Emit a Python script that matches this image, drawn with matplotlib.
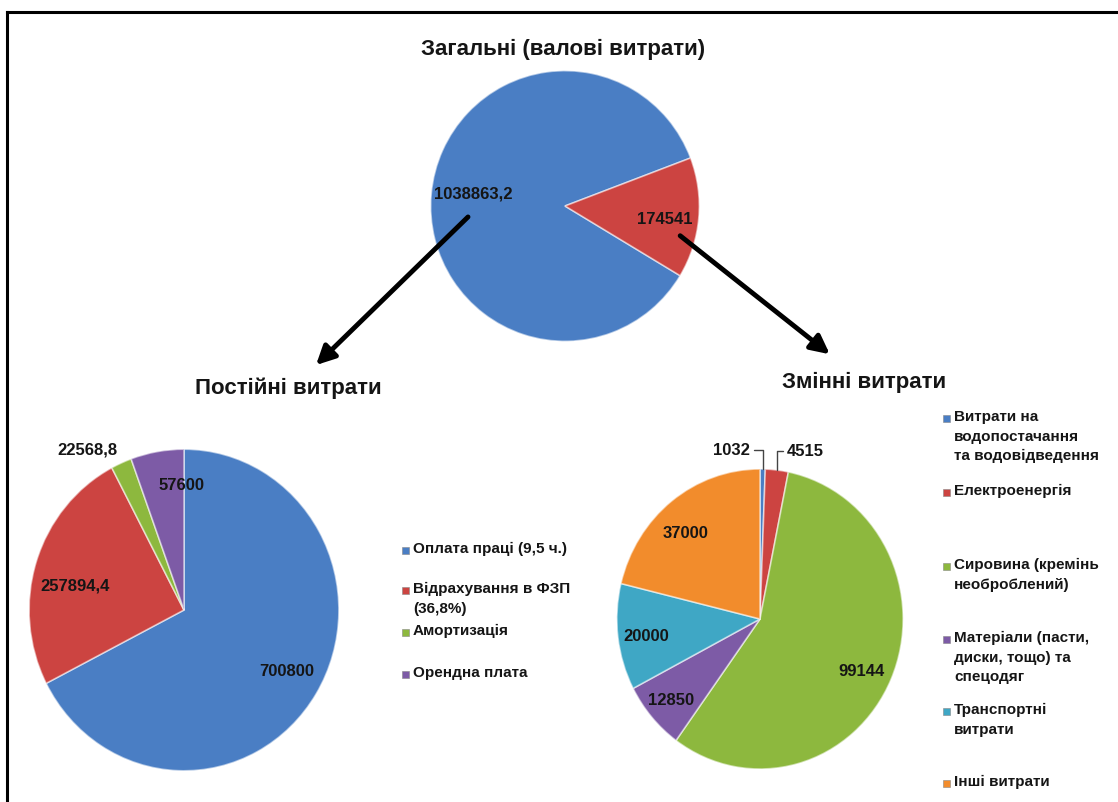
import matplotlib
matplotlib.use("Agg")
import matplotlib.pyplot as plt
import numpy as np
from matplotlib.lines import Line2D
from matplotlib.patches import Rectangle, FancyArrowPatch

plt.rcParams['font.family'] = ['Liberation Sans', 'DejaVu Sans']

# ---- data ----
total_labels = ["Постійні", "Змінні"]
total_values = [1038863.2, 174541]
total_text = ["1038863,2", "174541"]

fixed_labels = ["Оплата праці (9,5 ч.)", "Відрахування в ФЗП\n(36,8%)",
                "Амортизація", "Орендна плата"]
fixed_values = [700800, 257894.4, 22568.8, 57600]
fixed_text = ["700800", "257894,4", "22568,8", "57600"]

var_labels = ["Витрати на\nводопостачання\nта водовідведення", "Електроенергія",
              "Сировина (кремінь\nнеоброблений)",
              "Матеріали (пасти,\nдиски, тощо) та\nспецодяг",
              "Транспортні\nвитрати", "Інші витрати"]
var_values = [1032, 4515, 99144, 12850, 20000, 37000]
var_text = ["1032", "4515", "99144", "12850", "20000", "37000"]

BLUE, RED, GREEN = "#4a7ec4", "#cc4441", "#8db83e"
PURPLE, CYAN, ORANGE = "#7d5ba6", "#3fa7c5", "#f28c2c"
TEXT = "#151515"

W, H = 1118, 803
fig = plt.figure(figsize=(W / 100, H / 100), dpi=100)
fig.patch.set_facecolor("white")


def px_axes(cx, cy, rx, ry):
    return fig.add_axes([(cx - rx) / W, 1 - (cy + ry) / H, 2 * rx / W, 2 * ry / H])


def draw_pie(ax, values, colors, startangle, texts, radii, offsets, fs=12):
    wedges, _ = ax.pie(values, colors=colors, startangle=startangle,
                       counterclock=False,
                       wedgeprops=dict(edgecolor=(1, 1, 1, 0.55), linewidth=1.2))
    ax.set_aspect("auto")
    ax.set_xlim(-1.02, 1.02)
    ax.set_ylim(-1.02, 1.02)
    for w, t, r, off in zip(wedges, texts, radii, offsets):
        if r is None:
            continue
        mid = np.deg2rad((w.theta1 + w.theta2) / 2 + off)
        ax.text(r * np.cos(mid), r * np.sin(mid), t, ha="center", va="center",
                fontsize=fs, fontweight="bold", color=TEXT)
    return wedges


# top pie: total costs
ax_top = px_axes(565, 207, 137, 138)
draw_pie(ax_top, total_values, [BLUE, RED], -31, total_text,
         [0.69, 0.75], [-3, -2])

# bottom-left pie: fixed costs
ax_fix = px_axes(184, 611, 158, 164)
draw_pie(ax_fix, fixed_values, [BLUE, RED, GREEN, PURPLE], 90, fixed_text,
         [0.76, 0.72, 1.18, 0.78], [2, 5, 8, -9])

# bottom-right pie: variable costs
ax_var = px_axes(760, 620, 146, 153)
wv = draw_pie(ax_var, var_values, [BLUE, RED, GREEN, PURPLE, CYAN, ORANGE], 90,
              var_text, [None, None, 0.79, 0.82, 0.80, 0.78], [0, 0, -2, 0, 1, 4])

# outside labels with leader lines for the two thin slices
for w, t, (tx, ty), ha in zip(wv[:2], var_text[:2], [(-0.07, 1.13), (0.19, 1.12)],
                              ["right", "left"]):
    mid = np.deg2rad((w.theta1 + w.theta2) / 2)
    ax_var.annotate(t, xy=(np.cos(mid), np.sin(mid)), xytext=(tx, ty),
                    ha=ha, va="center", fontsize=12, fontweight="bold",
                    color=TEXT, annotation_clip=False,
                    arrowprops=dict(arrowstyle="-", color="#444444", lw=1,
                                    relpos=(1 if ha == "right" else 0, 0.5),
                                    shrinkA=1, shrinkB=0,
                                    connectionstyle="angle,angleA=0,angleB=90,rad=0"))

# titles
fig.text(563 / W, 1 - 49 / H, "Загальні (валові витрати)", ha="center", va="center",
         fontsize=16, fontweight="bold", color=TEXT)
fig.text(288 / W, 1 - 388 / H, "Постійні витрати", ha="center", va="center",
         fontsize=16, fontweight="bold", color=TEXT)
fig.text(864 / W, 1 - 382 / H, "Змінні витрати", ha="center", va="center",
         fontsize=16, fontweight="bold", color=TEXT)


# legends
def draw_legend(x_marker, ys, labels, colors):
    for y, lab, c in zip(ys, labels, colors):
        fig.add_artist(Rectangle(((x_marker - 3.5) / W, 1 - (y + 3.5) / H), 7 / W, 7 / H,
                                 transform=fig.transFigure, facecolor=c,
                                 edgecolor="#888888", linewidth=0.4))
        fig.text((x_marker + 8) / W, 1 - (y - 9) / H, lab, ha="left", va="top",
                 fontsize=11, fontweight="bold", color=TEXT, linespacing=1.5)


draw_legend(405, [551, 591, 633, 675], fixed_labels, [BLUE, RED, GREEN, PURPLE])
draw_legend(946, [419, 493, 567, 640, 712, 784], var_labels,
            [BLUE, RED, GREEN, PURPLE, CYAN, ORANGE])

# arrows from the total pie to the breakdowns
for (x0, y0), (x1, y1) in [((470, 216), (314, 368)), ((678, 235), (832, 357))]:
    fig.add_artist(FancyArrowPatch(
        (x0 / W, 1 - y0 / H), (x1 / W, 1 - y1 / H), transform=fig.transFigure,
        arrowstyle="-|>", mutation_scale=28, linewidth=3.5, color="black"))

# frame lines
fig.add_artist(Line2D([7 / W, 1], [1 - 13 / H, 1 - 13 / H], transform=fig.transFigure,
                      color="black", linewidth=2.2))
fig.add_artist(Line2D([7 / W, 7 / W], [0, 1 - 13 / H], transform=fig.transFigure,
                      color="black", linewidth=2.2))

fig.savefig("out.png", dpi=100)
